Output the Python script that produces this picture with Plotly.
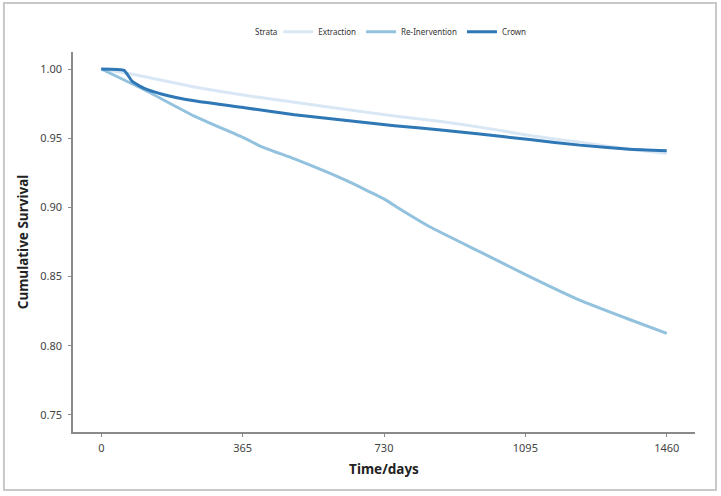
import plotly.graph_objects as go

# Data
extraction_days = [0, 85, 240, 370, 499, 628, 757, 877, 977, 1106, 1235, 1364, 1460]
extraction_surv = [1.000, 0.996, 0.987, 0.981, 0.976, 0.971, 0.966, 0.962, 0.958, 0.952, 0.947, 0.942, 0.939]

reint_days = [0, 111, 240, 370, 413, 499, 628, 731, 770, 848, 977, 1106, 1235, 1364, 1460]
reint_surv = [1.000, 0.985, 0.966, 0.950, 0.944, 0.935, 0.920, 0.906, 0.899, 0.886, 0.868, 0.850, 0.833, 0.819, 0.809]

crown_days = [0, 59, 80, 111, 155, 240, 370, 499, 628, 757, 877, 977, 1106, 1235, 1364, 1460]
crown_surv = [1.000, 0.999, 0.991, 0.986, 0.982, 0.977, 0.972, 0.967, 0.963, 0.959, 0.956, 0.953, 0.949, 0.945, 0.942, 0.941]

x_ticks = [0, 365, 730, 1095, 1460]
y_ticks = [0.75, 0.80, 0.85, 0.90, 0.95, 1.00]
y_ticktext = ["0.75", "0.80", "0.85", "0.90", "0.95", "1.00"]

series_names = ["Extraction", "Re-Inervention", "Crown"]
series_colors = ["#d9e7f5", "#93c2de", "#2f78b5"]

fig = go.Figure()
for name, xs, ys, col in zip(series_names,
                             [extraction_days, reint_days, crown_days],
                             [extraction_surv, reint_surv, crown_surv],
                             series_colors):
    fig.add_trace(go.Scatter(x=xs, y=ys, mode="lines", name=name,
                             line=dict(color=col, width=3, shape="spline", smoothing=0.4)))

fig.update_layout(
    width=721, height=496,
    margin=dict(l=73, r=26, t=52, b=64, autoexpand=False),
    paper_bgcolor="white", plot_bgcolor="white",
    font=dict(family="Noto Sans, DejaVu Sans, sans-serif", color="#444"),
    showlegend=True,
    legend=dict(orientation="h", x=0.33, xanchor="left", y=1.053, yanchor="middle",
                font=dict(size=8, color="#333"), itemwidth=30, tracegroupgap=0),
    xaxis=dict(range=[-73, 1533], tickvals=x_ticks, ticktext=[str(v) for v in x_ticks],
               showgrid=False, zeroline=False, showline=True, linecolor="#8a8a8a", linewidth=1.5,
               ticks="outside", ticklen=3, tickcolor="#8a8a8a", tickfont=dict(size=11, color="#444"),
               ticklabelstandoff=2,
               title=dict(text="<b>Time/days</b>", font=dict(size=13.5, color="#222"), standoff=11)),
    yaxis=dict(range=[0.7377, 1.0123], tickvals=y_ticks, ticktext=y_ticktext,
               showgrid=False, zeroline=False, showline=True, linecolor="#8a8a8a", linewidth=1.5,
               ticks="outside", ticklen=3, tickcolor="#8a8a8a", tickfont=dict(size=11, color="#444"),
               ticklabelstandoff=4,
               title=dict(text="<b>Cumulative Survival</b>", font=dict(size=13.5, color="#222"), standoff=8)),
    annotations=[dict(text="Strata", xref="paper", yref="paper", x=0.331, y=1.053,
                      xanchor="right", yanchor="middle", showarrow=False,
                      font=dict(size=8, color="#333"))],
    shapes=[dict(type="rect", xref="paper", yref="paper",
                 x0=-0.111, x1=1.0338, y0=-0.1526, y1=1.129,
                 line=dict(color="#c8c8c8", width=2), fillcolor="rgba(0,0,0,0)", layer="below")],
)

fig.write_html("out.html", config={"displayModeBar": False},
               post_script="document.body.style.margin='0';")
